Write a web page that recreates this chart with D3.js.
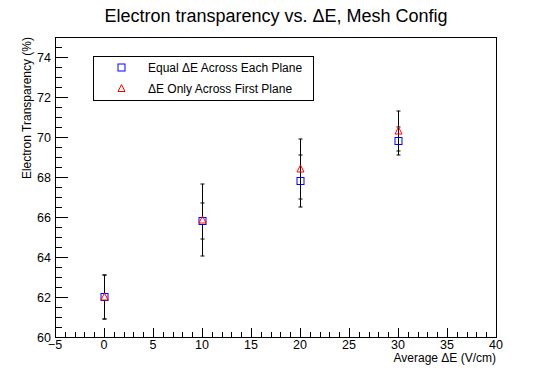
<!DOCTYPE html>
<html>
<head>
<meta charset="utf-8">
<script src="https://cdn.jsdelivr.net/npm/d3@7"></script>
<style>
  body { margin: 0; background: #fff; }
  text { font-family: "Liberation Sans", Arial, sans-serif; fill: #000; }
</style>
</head>
<body>
<svg id="chart" width="552" height="374"></svg>
<script>
// data
var xValues = [0, 10, 20, 30];
var equalValues = [62.0, 65.8, 67.8, 69.8];
var equalErrors = [1.1, 0.9, 1.3, 0.7];
var firstValues = [62.0, 65.85, 68.4, 70.3];
var firstErrors = [1.1, 1.8, 1.5, 1.0];
var seriesNames = ["Equal \u0394E Across Each Plane", "\u0394E Only Across First Plane"];
var xTicks = [-5, 0, 5, 10, 15, 20, 25, 30, 35, 40];
var yTicks = [60, 62, 64, 66, 68, 70, 72, 74];

var svg = d3.select("#chart");

var frameLeft = 55, frameRight = 496, frameTop = 37, frameBottom = 337;

var x = d3.scaleLinear().domain([-5, 40]).range([frameLeft, frameRight]);
var y = d3.scaleLinear().domain([60, 75]).range([frameBottom, frameTop]);

// frame
svg.append("rect")
  .attr("x", frameLeft + 0.5).attr("y", frameTop + 0.5)
  .attr("width", frameRight - frameLeft).attr("height", frameBottom - frameTop)
  .attr("fill", "none").attr("stroke", "#000").attr("stroke-width", 1);

// x axis ticks (ROOT style, pointing inward)
var xMinor = d3.range(-5, 40.01, 1);
svg.append("g").selectAll("line").data(xMinor).enter().append("line")
  .attr("x1", function(d) { return Math.round(x(d)) + 0.5; })
  .attr("x2", function(d) { return Math.round(x(d)) + 0.5; })
  .attr("y1", frameBottom)
  .attr("y2", function(d) { return d % 5 === 0 ? frameBottom - 9 : frameBottom - 5; })
  .attr("stroke", "#000");

svg.append("g").selectAll("text").data(xTicks).enter().append("text")
  .attr("x", function(d) { return x(d); })
  .attr("y", 349)
  .attr("text-anchor", "middle")
  .style("font-size", "12.5px")
  .text(function(d) { return d < 0 ? "\u2212" + Math.abs(d) : d; });

// y axis ticks
var yMinor = d3.range(60, 75.01, 0.5);
svg.append("g").selectAll("line").data(yMinor).enter().append("line")
  .attr("y1", function(d) { return Math.round(y(d)) + 0.5; })
  .attr("y2", function(d) { return Math.round(y(d)) + 0.5; })
  .attr("x1", frameLeft)
  .attr("x2", function(d) { return d % 2 === 0 ? frameLeft + 13 : frameLeft + 7; })
  .attr("stroke", "#000");

svg.append("g").selectAll("text").data(yTicks).enter().append("text")
  .attr("x", 51)
  .attr("y", function(d) { return y(d) + 4.5; })
  .attr("text-anchor", "end")
  .style("font-size", "12.5px")
  .text(function(d) { return d; });

// titles
svg.append("text")
  .attr("x", 276).attr("y", 22)
  .attr("text-anchor", "middle")
  .style("font-size", "18px")
  .text("Electron transparency vs. \u0394E, Mesh Config");

svg.append("text")
  .attr("x", frameRight).attr("y", 362)
  .attr("text-anchor", "end")
  .style("font-size", "12px")
  .text("Average \u0394E (V/cm)");

svg.append("text")
  .attr("transform", "translate(31," + frameTop + ") rotate(-90)")
  .attr("text-anchor", "end")
  .style("font-size", "12px")
  .text("Electron Transparency (%)");

// error bars with a gap around the marker
var gap = 4;
function drawErrors(vals, errs) {
  var g = svg.append("g").attr("stroke", "#000").attr("stroke-width", 1);
  xValues.forEach(function(xv, i) {
    var cx = Math.round(x(xv)) + 0.5;
    var cy = y(vals[i]);
    var hi = y(vals[i] + errs[i]);
    var lo = y(vals[i] - errs[i]);
    g.append("line").attr("x1", cx).attr("x2", cx).attr("y1", hi).attr("y2", cy - gap);
    g.append("line").attr("x1", cx).attr("x2", cx).attr("y1", cy + gap).attr("y2", lo);
    g.append("line").attr("x1", cx - 2).attr("x2", cx + 2).attr("y1", hi).attr("y2", hi);
    g.append("line").attr("x1", cx - 2).attr("x2", cx + 2).attr("y1", lo).attr("y2", lo);
  });
}
drawErrors(equalValues, equalErrors);
drawErrors(firstValues, firstErrors);

function square(g, cx, cy) {
  g.append("rect")
    .attr("x", cx - 3.5).attr("y", cy - 3.5)
    .attr("width", 7).attr("height", 7)
    .attr("fill", "none").attr("stroke", "#0000ff").attr("stroke-width", 1);
}
function triangle(g, cx, cy) {
  g.append("path")
    .attr("d", "M" + (cx - 3.5) + "," + (cy + 3) + "L" + (cx + 3.5) + "," + (cy + 3) + "L" + cx + "," + (cy - 4) + "Z")
    .attr("fill", "none").attr("stroke", "#ff0000").attr("stroke-width", 1);
}

var markers = svg.append("g");
xValues.forEach(function(xv, i) {
  square(markers, Math.round(x(xv)) + 0.5, y(equalValues[i]));
});
xValues.forEach(function(xv, i) {
  triangle(markers, Math.round(x(xv)) + 0.5, y(firstValues[i]));
});

// legend
var legend = svg.append("g");
legend.append("rect")
  .attr("x", 93.5).attr("y", 56.5).attr("width", 220).attr("height", 44)
  .attr("fill", "#fff").attr("stroke", "#000").attr("stroke-width", 1);
square(legend, 121.5, 67.5);
triangle(legend, 121.5, 88.5);
legend.selectAll("text.entry").data(seriesNames).enter().append("text")
  .attr("class", "entry")
  .attr("x", 148)
  .attr("y", function(d, i) { return 72 + i * 20.5; })
  .style("font-size", "12px")
  .text(function(d) { return d; });
</script>
</body>
</html>
